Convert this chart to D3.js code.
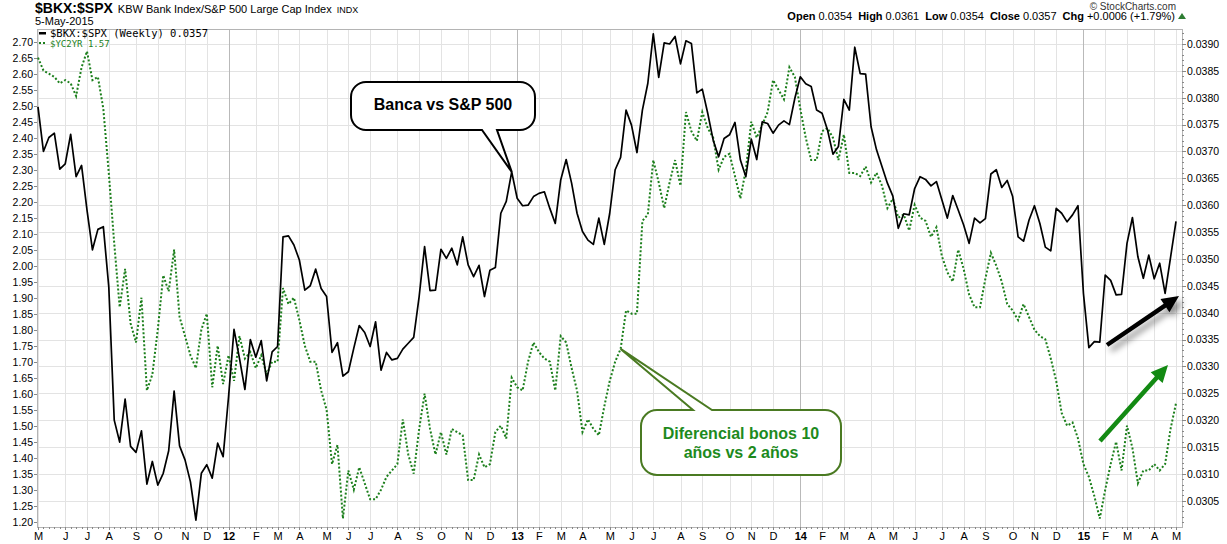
<!DOCTYPE html>
<html lang="en">
<head>
<meta charset="UTF-8">
<title>$BKX:$SPX vs $YC2YR</title>
<script src="https://d3js.org/d3.v7.min.js"></script>
<style>
  body { margin: 0; background: #fff; }
  svg { display: block; font-family: "Liberation Sans", Arial, sans-serif; }
  .grid line { stroke: #e3e3e3; shape-rendering: crispEdges; }
  .grid line.year { stroke: #b9b9b9; }
  .axis text { fill: #000; }
  .axis line { stroke: #888; shape-rendering: crispEdges; }
  .legend text { font-family: "DejaVu Sans Mono", monospace; }
</style>
</head>
<body>
<div id="chart"></div>
<script>
// weekly closes, first week starts Mon 2 May 2011
const bkxSpx = [
  0.03783, 0.03700, 0.03726, 0.03734, 0.03667, 0.03677, 0.03732, 0.03653, 0.03674, 0.03591,
  0.03517, 0.03555, 0.03560, 0.03448, 0.03200, 0.03159, 0.03239, 0.03151, 0.03140, 0.03180,
  0.03081, 0.03123, 0.03079, 0.03101, 0.03143, 0.03254, 0.03152, 0.03126, 0.03085, 0.03014,
  0.03101, 0.03117, 0.03092, 0.03157, 0.03132, 0.03244, 0.03369, 0.03315, 0.03257, 0.03350,
  0.03317, 0.03348, 0.03273, 0.03327, 0.03337, 0.03541, 0.03543, 0.03526, 0.03498, 0.03442,
  0.03450, 0.03481, 0.03445, 0.03430, 0.03326, 0.03344, 0.03282, 0.03290, 0.03334, 0.03376,
  0.03363, 0.03337, 0.03383, 0.03293, 0.03326, 0.03312, 0.03315, 0.03332, 0.03343, 0.03354,
  0.03430, 0.03523, 0.03441, 0.03442, 0.03518, 0.03501, 0.03520, 0.03489, 0.03541, 0.03489,
  0.03467, 0.03488, 0.03430, 0.03479, 0.03484, 0.03585, 0.03607, 0.03662, 0.03613, 0.03599,
  0.03600, 0.03616, 0.03622, 0.03625, 0.03594, 0.03566, 0.03647, 0.03685, 0.03641, 0.03585,
  0.03551, 0.03535, 0.03527, 0.03576, 0.03527, 0.03585, 0.03666, 0.03689, 0.03777, 0.03749,
  0.03698, 0.03777, 0.03827, 0.03919, 0.03838, 0.03902, 0.03900, 0.03914, 0.03863, 0.03906,
  0.03901, 0.03809, 0.03816, 0.03771, 0.03721, 0.03690, 0.03724, 0.03731, 0.03754, 0.03684,
  0.03653, 0.03723, 0.03685, 0.03755, 0.03752, 0.03734, 0.03749, 0.03757, 0.03750, 0.03799,
  0.03839, 0.03826, 0.03821, 0.03777, 0.03771, 0.03740, 0.03695, 0.03709, 0.03797, 0.03777,
  0.03894, 0.03845, 0.03844, 0.03746, 0.03703, 0.03672, 0.03641, 0.03617, 0.03557, 0.03584,
  0.03582, 0.03631, 0.03653, 0.03648, 0.03636, 0.03644, 0.03610, 0.03576, 0.03618, 0.03591,
  0.03563, 0.03529, 0.03576, 0.03567, 0.03575, 0.03658, 0.03666, 0.03633, 0.03646, 0.03616,
  0.03541, 0.03533, 0.03572, 0.03599, 0.03566, 0.03522, 0.03515, 0.03594, 0.03585, 0.03569,
  0.03582, 0.03599, 0.03436, 0.03335, 0.03346, 0.03345, 0.03470, 0.03460, 0.03433, 0.03434,
  0.03529, 0.03577, 0.03504, 0.03464, 0.03507, 0.03463, 0.03492, 0.03436, 0.03503, 0.03570
];

const yc2yr = [
  2.65, 2.61, 2.60, 2.59, 2.57, 2.58, 2.57, 2.53, 2.62, 2.67,
  2.58, 2.59, 2.49, 2.29, 2.07, 1.87, 1.99, 1.82, 1.76, 1.90,
  1.61, 1.66, 1.80, 1.97, 1.92, 2.05, 1.84, 1.78, 1.72, 1.68,
  1.80, 1.85, 1.62, 1.75, 1.63, 1.72, 1.64, 1.78, 1.71, 1.73,
  1.68, 1.72, 1.66, 1.70, 1.70, 1.93, 1.88, 1.90, 1.83, 1.75,
  1.70, 1.70, 1.61, 1.55, 1.38, 1.44, 1.21, 1.36, 1.30, 1.37,
  1.32, 1.27, 1.27, 1.30, 1.34, 1.36, 1.38, 1.52, 1.41, 1.35,
  1.49, 1.60, 1.49, 1.41, 1.48, 1.41, 1.49, 1.48, 1.47, 1.33,
  1.33, 1.41, 1.37, 1.38, 1.48, 1.50, 1.46, 1.65, 1.62, 1.61,
  1.70, 1.76, 1.73, 1.71, 1.70, 1.61, 1.78, 1.76, 1.68, 1.61,
  1.48, 1.52, 1.49, 1.47, 1.56, 1.64, 1.70, 1.74, 1.86, 1.85,
  1.85, 2.14, 2.16, 2.33, 2.26, 2.18, 2.26, 2.33, 2.25, 2.48,
  2.42, 2.39, 2.48, 2.43, 2.40, 2.30, 2.34, 2.35, 2.28, 2.21,
  2.30, 2.45, 2.40, 2.44, 2.48, 2.58, 2.55, 2.52, 2.62, 2.59,
  2.49, 2.40, 2.33, 2.33, 2.42, 2.43, 2.40, 2.33, 2.41, 2.29,
  2.29, 2.28, 2.31, 2.26, 2.29, 2.25, 2.18, 2.21, 2.15, 2.16,
  2.11, 2.19, 2.15, 2.14, 2.09, 2.12, 2.03, 1.98, 1.95, 2.05,
  1.99, 1.91, 1.87, 1.87, 1.96, 2.04, 2.00, 1.95, 1.88, 1.86,
  1.83, 1.88, 1.84, 1.80, 1.78, 1.77, 1.71, 1.64, 1.54, 1.50,
  1.51, 1.46, 1.38, 1.34, 1.28, 1.21, 1.30, 1.38, 1.45, 1.36,
  1.50, 1.43, 1.32, 1.36, 1.36, 1.38, 1.36, 1.38, 1.49, 1.57
];

const firstWeek = new Date(2011, 4, 2);
const monthLetters = ["J", "F", "M", "A", "M", "J", "J", "A", "S", "O", "N", "D"];
const leftTicks = d3.range(120, 271, 5).map(v => v / 100);
const rightTicks = d3.range(305, 391, 5).map(v => v / 10000);
const quote = [["Open", "0.0354"], ["High", "0.0361"], ["Low", "0.0354"], ["Close", "0.0357"], ["Chg", "+0.0006 (+1.79%)"]];

const W = 1227, H = 544;
const plot = { left: 37, right: 1182, top: 29, bottom: 527 };

const svg = d3.select("#chart").append("svg")
    .attr("width", W)
    .attr("height", H);

const defs = svg.append("defs");
defs.append("clipPath").attr("id", "plot-clip")
    .append("rect")
    .attr("x", plot.left).attr("y", plot.top)
    .attr("width", plot.right - plot.left).attr("height", plot.bottom - plot.top);
defs.append("filter").attr("id", "shadow")
    .attr("x", "-30%").attr("y", "-30%").attr("width", "160%").attr("height", "160%")
    .append("feDropShadow")
    .attr("dx", 4).attr("dy", 5).attr("stdDeviation", 3)
    .attr("flood-color", "#000").attr("flood-opacity", 0.45);

const dates = bkxSpx.map((d, i) => d3.timeDay.offset(firstWeek, 7 * i));
const monthTicks = dates.filter((d, i) => i === 0 || d.getMonth() !== dates[i - 1].getMonth());

// scales
const x = d3.scaleTime()
    .domain([dates[0], dates[dates.length - 1]])
    .range([38, 1176]);
const yRight = d3.scaleLinear().domain([0.0305, 0.0390]).range([500.7, 44]);
const yLeft = d3.scaleLinear().domain([1.20, 2.70]).range([521.7, 41.7]);

// grid
const grid = svg.append("g").attr("class", "grid");
grid.selectAll("line.h")
    .data(rightTicks)
    .join("line")
    .attr("class", "h")
    .attr("x1", plot.left).attr("x2", plot.right)
    .attr("y1", d => Math.round(yRight(d)) + 0.5)
    .attr("y2", d => Math.round(yRight(d)) + 0.5);
grid.selectAll("line.v")
    .data(monthTicks)
    .join("line")
    .attr("class", d => d.getMonth() === 0 ? "v year" : "v")
    .attr("x1", d => Math.round(x(d)) + 0.5)
    .attr("x2", d => Math.round(x(d)) + 0.5)
    .attr("y1", plot.top).attr("y2", plot.bottom);

svg.append("rect")
    .attr("x", plot.left + 0.5).attr("y", plot.top + 0.5)
    .attr("width", plot.right - plot.left).attr("height", plot.bottom - plot.top)
    .attr("fill", "none")
    .attr("stroke", "#b4b4b4")
    .attr("shape-rendering", "crispEdges");

// left axis ($YC2YR)
svg.append("g")
    .attr("class", "axis")
    .attr("transform", `translate(${plot.left},0)`)
    .call(d3.axisLeft(yLeft).tickValues(leftTicks).tickFormat(d3.format(".2f")).tickSize(3).tickPadding(1))
    .call(g => g.select(".domain").remove())
    .selectAll("text").style("font-size", "10.5px");

// right axis ($BKX:$SPX)
svg.append("g")
    .attr("class", "axis")
    .attr("transform", `translate(${plot.right},0)`)
    .call(d3.axisRight(yRight).tickValues(rightTicks).tickFormat(d3.format(".4f")).tickSize(4).tickPadding(1))
    .call(g => g.select(".domain").remove())
    .selectAll("text").style("font-size", "10.5px");

svg.append("g")
    .attr("class", "axis")
    .attr("transform", `translate(${plot.right},0)`)
    .call(d3.axisRight(yRight).tickValues(d3.range(301, 393).map(v => v / 10000)).tickSize(2).tickFormat(""))
    .call(g => g.select(".domain").remove());

// bottom axis: weekly minor ticks, month labels
svg.append("g")
    .attr("class", "axis")
    .attr("transform", `translate(0,${plot.bottom})`)
    .call(d3.axisBottom(x).tickValues(dates).tickSize(2).tickFormat(""))
    .call(g => g.select(".domain").remove());

svg.append("g")
    .attr("class", "axis")
    .attr("transform", `translate(0,${plot.bottom})`)
    .call(d3.axisBottom(x).tickValues(monthTicks).tickSize(3).tickPadding(2)
        .tickFormat(d => d.getMonth() === 0 ? d3.timeFormat("%y")(d) : monthLetters[d.getMonth()]))
    .call(g => g.select(".domain").remove())
    .selectAll("text")
    .style("font-size", "11px")
    .style("font-weight", d => d.getMonth() === 0 ? "bold" : "normal");

// series
const lines = svg.append("g").attr("clip-path", "url(#plot-clip)");

lines.append("path")
    .datum(yc2yr)
    .attr("fill", "none")
    .attr("stroke", "#1c7f1c")
    .attr("stroke-width", 2)
    .attr("stroke-dasharray", "2,2")
    .attr("d", d3.line().x((d, i) => x(dates[i])).y(d => yLeft(d)));

lines.append("path")
    .datum(bkxSpx)
    .attr("fill", "none")
    .attr("stroke", "#000")
    .attr("stroke-width", 1.7)
    .attr("stroke-linejoin", "round")
    .attr("d", d3.line().x((d, i) => x(dates[i])).y(d => yRight(d)));

// header
const title = svg.append("text").attr("x", 35).attr("y", 13);
title.append("tspan").text("$BKX:$SPX").style("font-weight", "bold").style("font-size", "14px");
title.append("tspan").attr("dx", 5).text("KBW Bank Index/S&P 500 Large Cap Index").style("font-size", "11px");
title.append("tspan").attr("dx", 5).text("INDX").style("font-size", "9px");

svg.append("text").attr("x", 35).attr("y", 25).style("font-size", "11px").text("5-May-2015");

svg.append("text")
    .attr("x", 1176).attr("y", 9.5)
    .attr("text-anchor", "end")
    .style("font-size", "10px")
    .attr("fill", "#333")
    .text("\u00a9 StockCharts.com");

const q = svg.append("text")
    .attr("x", 1175).attr("y", 20)
    .attr("text-anchor", "end")
    .style("font-size", "11px");
quote.forEach(([k, v], i) => {
    q.append("tspan").attr("dx", i === 0 ? 0 : 6).style("font-weight", "bold").text(k);
    q.append("tspan").attr("dx", 3).text(v);
});
svg.append("path")
    .attr("d", "M1178,19 L1182,13 L1186,19 Z")
    .attr("fill", "#2e7d32");

// legend
const legend = svg.append("g").attr("class", "legend");
legend.append("rect").attr("x", 39).attr("y", 32).attr("width", 7).attr("height", 2.5).attr("fill", "#000");
legend.append("text")
    .attr("x", 50).attr("y", 37)
    .style("font-size", "10.5px")
    .text(`$BKX:$SPX (Weekly) ${d3.format(".4f")(bkxSpx[bkxSpx.length - 1])}`);
legend.selectAll("rect.dot")
    .data([39, 43])
    .join("rect")
    .attr("class", "dot")
    .attr("x", d => d).attr("y", 42)
    .attr("width", 2).attr("height", 2)
    .attr("fill", "#1c7f1c");
legend.append("text")
    .attr("x", 50).attr("y", 46.5)
    .style("font-size", "9px")
    .attr("fill", "#1c7f1c")
    .text(`$YC2YR ${d3.format(".2f")(yc2yr[yc2yr.length - 1])}`);

// callouts
function callout(bx, tailSide, t1, t2, tip) {
    const { x: x0, y: y0, w, h, r } = bx;
    const x1 = x0 + w, y1 = y0 + h;
    const top = tailSide === "top"
        ? `H${t1} L${tip[0]},${tip[1]} L${t2},${y0} `
        : "";
    const bottom = tailSide === "bottom"
        ? `H${t2} L${tip[0]},${tip[1]} L${t1},${y1} `
        : "";
    return `M${x0 + r},${y0} ${top}H${x1 - r} A${r},${r} 0 0 1 ${x1},${y0 + r} V${y1 - r} ` +
        `A${r},${r} 0 0 1 ${x1 - r},${y1} ${bottom}H${x0 + r} A${r},${r} 0 0 1 ${x0},${y1 - r} ` +
        `V${y0 + r} A${r},${r} 0 0 1 ${x0 + r},${y0} Z`;
}

const bancaBox = { x: 351, y: 82, w: 184, h: 48, r: 15 };
svg.append("path")
    .attr("d", callout(bancaBox, "bottom", 482, 497, [x(dates[87]), yRight(bkxSpx[87])]))
    .attr("fill", "#fff")
    .attr("stroke", "#000")
    .attr("stroke-width", 2);
svg.append("text")
    .attr("x", bancaBox.x + bancaBox.w / 2).attr("y", 110)
    .attr("text-anchor", "middle")
    .style("font-size", "16px").style("font-weight", "bold")
    .text("Banca vs S&P 500");

const bonosBox = { x: 641, y: 410, w: 200, h: 65, r: 16 };
svg.append("path")
    .attr("d", callout(bonosBox, "top", 693, 712, [x(dates[107]), yLeft(yc2yr[107])]))
    .attr("fill", "#fff")
    .attr("stroke", "#4a7a22")
    .attr("stroke-width", 2);
const bonosText = svg.append("text")
    .attr("text-anchor", "middle")
    .attr("fill", "#1d8a1d")
    .style("font-size", "16px").style("font-weight", "bold");
bonosText.append("tspan").attr("x", bonosBox.x + bonosBox.w / 2).attr("y", 438.5).text("Diferencial bonos 10");
bonosText.append("tspan").attr("x", bonosBox.x + bonosBox.w / 2).attr("y", 457.5).text("años vs 2 años");

// trend arrows
function arrow(p0, p1, w, headLen, headW) {
    const dx = p1[0] - p0[0], dy = p1[1] - p0[1];
    const len = Math.hypot(dx, dy);
    const ux = dx / len, uy = dy / len, nx = -uy, ny = ux;
    const bx = p1[0] - ux * headLen, by = p1[1] - uy * headLen;
    const pts = [
        [p0[0] + nx * w / 2, p0[1] + ny * w / 2],
        [bx + nx * w / 2, by + ny * w / 2],
        [bx + nx * headW / 2, by + ny * headW / 2],
        p1,
        [bx - nx * headW / 2, by - ny * headW / 2],
        [bx - nx * w / 2, by - ny * w / 2],
        [p0[0] - nx * w / 2, p0[1] - ny * w / 2]
    ];
    return "M" + pts.map(p => p.join(",")).join("L") + "Z";
}

svg.append("path")
    .attr("d", arrow([1107, 345], [1179, 296], 4.5, 17, 16))
    .attr("fill", "#000")
    .attr("filter", "url(#shadow)");

svg.append("path")
    .attr("d", arrow([1100, 441], [1168, 365], 4.5, 17, 16))
    .attr("fill", "#138a13");
</script>
</body>
</html>
